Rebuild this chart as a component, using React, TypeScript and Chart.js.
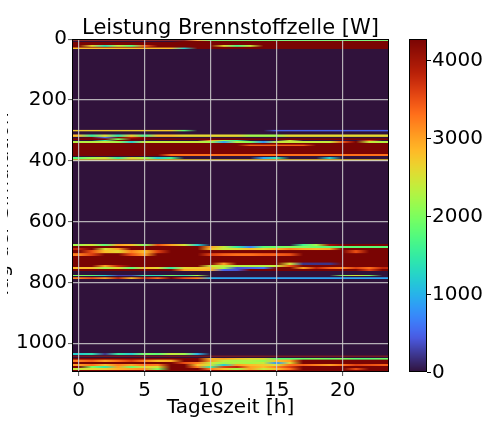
import React, { useEffect, useRef } from "react";
import { Chart, registerables } from "chart.js";

Chart.register(...registerables);

const FONT = "'DejaVu Sans', 'Liberation Sans', sans-serif";

// Columns: hour of day; rows: simulated day
const hours = [0, 1, 2, 3, 4, 5, 6, 7, 8, 9, 10, 11, 12, 13, 14, 15, 16, 17, 18, 19, 20, 21, 22, 23];
const dayCount = 1095;
const xTicks = [0, 5, 10, 15, 20];
const yTicks = [0, 200, 400, 600, 800, 1000];
const cbTicks = [0, 1000, 2000, 3000, 4000];
const cbMax = 4270;

const title = "Leistung Brennstoffzelle [W]";
const xLabel = "Tageszeit [h]";
const yLabel = "Tag der Simulation";

// [first day, last day, power per hour in W]; days not listed are 0 W
type Band = [number, number, number[]];

const winter1: Band[] = [
  [0, 5, [4300, 4300, 4300, 4300, 4300, 4300, 4300, 4300, 4300, 3000, 1900, 1900, 1900, 1900, 1900, 1900, 1900, 1900, 1900, 1900, 1900, 1900, 1900, 1900]],
  [6, 8, [0, 0, 0, 0, 0, 0, 0, 0, 4300, 4300, 4300, 4300, 4300, 4300, 4300, 4300, 4300, 4300, 4300, 4300, 4300, 4300, 4300, 4300]],
  [9, 18, [4300, 4300, 4300, 4300, 4300, 4300, 4300, 4300, 4300, 4300, 4300, 4300, 4300, 4300, 4300, 4300, 4300, 4300, 4300, 4300, 4300, 4300, 4300, 4300]],
  [19, 24, [4300, 2600, 1400, 2400, 1800, 3400, 4300, 4300, 4300, 4300, 4300, 2600, 1700, 2400, 4300, 4300, 4300, 4300, 4300, 4300, 4300, 4300, 4300, 4300]],
  [25, 27, [4300, 4300, 4300, 4300, 4300, 4300, 4300, 4300, 4300, 4300, 4300, 4300, 4300, 4300, 4300, 4300, 4300, 4300, 4300, 4300, 4300, 4300, 4300, 4300]],
  [28, 32, [2800, 2800, 2800, 2800, 2800, 2800, 2800, 2800, 1200, 4300, 4300, 4300, 4300, 4300, 4300, 4300, 4300, 4300, 4300, 4300, 4300, 4300, 4300, 4300]],
];

const winter2: Band[] = [
  [298, 303, [2700, 2700, 2700, 2700, 2700, 2700, 2700, 2700, 1800, 0, 0, 0, 0, 0, 0, 500, 500, 500, 500, 500, 500, 500, 500, 500]],
  [314, 320, [2800, 1500, 2600, 1400, 2700, 1600, 2800, 2800, 2600, 2600, 2600, 2600, 2600, 2200, 2200, 2200, 2600, 2600, 2600, 2600, 2600, 2600, 2600, 2600]],
  [321, 326, [0, 4300, 600, 4300, 3800, 4300, 0, 0, 0, 0, 0, 0, 0, 0, 0, 0, 0, 0, 0, 0, 0, 0, 0, 0]],
  [327, 330, [4300, 4300, 4300, 2000, 4300, 4300, 4300, 4300, 4300, 4300, 4300, 4300, 4300, 4300, 4300, 4300, 4300, 4300, 4300, 4300, 4300, 4300, 4300, 4300]],
  [331, 334, [0, 0, 1500, 4300, 4300, 0, 0, 0, 0, 0, 3000, 2200, 1500, 0, 0, 0, 2400, 0, 0, 0, 0, 0, 3500, 0]],
  [335, 340, [2300, 2300, 2400, 2200, 1200, 2400, 2400, 2400, 2400, 2400, 2200, 900, 2300, 2000, 800, 2400, 2400, 2400, 2400, 2400, 3500, 4300, 2400, 2300]],
  [341, 346, [4300, 4300, 4300, 4300, 4300, 4300, 4300, 4300, 4300, 4300, 4300, 4300, 4300, 4300, 4300, 4300, 4300, 4300, 4300, 4300, 4300, 4300, 4300, 4300]],
  [347, 352, [4300, 4300, 4300, 4300, 4300, 4300, 4300, 4300, 4300, 4300, 4300, 4300, 4300, 3400, 3400, 3400, 3400, 3400, 4300, 4300, 4300, 4300, 4300, 4300]],
  [353, 377, [4300, 4300, 4300, 4300, 4300, 4300, 4300, 4300, 4300, 4300, 4300, 4300, 4300, 4300, 4300, 4300, 4300, 4300, 4300, 4300, 4300, 4300, 4300, 4300]],
  [378, 383, [4300, 4300, 4300, 4300, 4300, 4300, 4300, 3300, 3300, 3300, 3300, 3300, 3300, 3300, 3300, 3300, 3300, 3300, 3300, 3300, 3300, 3300, 3300, 3300]],
  [387, 393, [1800, 2200, 2500, 1500, 2600, 2200, 1200, 1600, 0, 0, 0, 0, 0, 0, 900, 1400, 0, 0, 0, 1200, 0, 0, 0, 0]],
  [396, 401, [2700, 2700, 2700, 2700, 2700, 2700, 2700, 2700, 2700, 2700, 2700, 2700, 2700, 2700, 2700, 2700, 2700, 2700, 2700, 2700, 2700, 2700, 2700, 2700]],
];

const winter3: Band[] = [
  [674, 680, [2200, 2500, 1800, 3000, 2800, 2000, 3500, 3000, 2500, 1200, 0, 0, 0, 0, 0, 0, 0, 1600, 2200, 4000, 4300, 4300, 4300, 4300]],
  [681, 687, [4300, 4300, 4300, 4300, 4300, 4300, 4300, 4300, 4300, 4300, 3000, 2400, 1500, 700, 1800, 1900, 2000, 2000, 1900, 1800, 1800, 1800, 1800, 1800]],
  [688, 694, [3800, 4300, 2500, 3000, 4300, 4300, 4300, 4300, 4300, 4300, 2800, 2400, 2600, 2800, 2600, 2900, 3200, 3000, 2900, 3000, 4300, 4300, 4300, 4300]],
  [695, 704, [4300, 3500, 2800, 2600, 3200, 2800, 3600, 4300, 4300, 4300, 4300, 4300, 4300, 4300, 4300, 4300, 4300, 4300, 4300, 4300, 4300, 3500, 4300, 4300]],
  [705, 712, [3200, 3600, 4300, 4300, 3500, 3000, 4300, 4300, 4300, 4300, 3600, 3400, 3300, 3300, 3400, 3400, 3500, 4300, 4300, 4300, 4300, 4300, 4300, 4300]],
  [713, 734, [4300, 4300, 4300, 4300, 4300, 4300, 4300, 4300, 4300, 4300, 4300, 4300, 4300, 4300, 4300, 4300, 4300, 4300, 4300, 4300, 4300, 4300, 4300, 4300]],
  [735, 742, [4300, 4300, 4300, 4300, 4300, 4300, 4300, 4300, 4300, 4300, 4300, 3000, 4300, 4300, 4300, 4300, 2500, 200, 200, 200, 4300, 4300, 4300, 4300]],
  [743, 748, [4300, 4300, 3000, 3800, 4300, 4300, 4300, 4300, 4300, 4300, 2400, 2400, 2300, 2300, 2300, 2400, 3500, 4300, 4300, 4300, 4300, 4300, 4300, 4300]],
  [749, 756, [2800, 2800, 2200, 2600, 1800, 2800, 2600, 1500, 2600, 2700, 2800, 2200, 400, 500, 600, 4300, 4300, 3000, 3800, 3400, 3200, 3600, 3300, 3800]],
  [757, 763, [4300, 4300, 4300, 4300, 4300, 4300, 4300, 4300, 3000, 2900, 2900, 500, 400, 4300, 4300, 4300, 4300, 4300, 4300, 4300, 4300, 4300, 3600, 4300]],
  [775, 779, [2000, 1800, 1200, 300, 300, 1500, 1300, 2000, 1400, 2200, 0, 0, 0, 0, 0, 0, 0, 0, 0, 0, 2000, 2500, 2000, 0]],
  [784, 789, [3200, 3500, 3000, 3800, 2800, 3800, 3300, 4300, 3500, 3200, 1000, 900, 900, 900, 900, 900, 900, 900, 900, 900, 900, 900, 900, 900]],
];

const winter4: Band[] = [
  [1032, 1038, [1200, 1400, 200, 1500, 1200, 2000, 1800, 2400, 2200, 1000, 0, 0, 0, 0, 0, 0, 0, 0, 0, 0, 0, 0, 0, 0]],
  [1041, 1043, [3800, 3800, 3800, 3800, 3800, 3800, 3800, 3800, 3800, 3800, 3800, 3800, 3800, 3800, 3800, 3800, 3800, 3800, 3800, 3800, 3800, 3800, 3800, 3800]],
  [1048, 1053, [4300, 4300, 4300, 4300, 4300, 4300, 4300, 4300, 4300, 4300, 2800, 3000, 2800, 2600, 2600, 1800, 1800, 1900, 2000, 1900, 2000, 1800, 1800, 1900]],
  [1054, 1060, [3200, 3400, 3000, 3300, 3600, 3200, 2800, 2900, 4300, 4300, 3000, 2400, 2200, 2300, 2100, 2800, 3000, 4300, 4300, 4300, 4300, 4300, 4300, 4300]],
  [1061, 1067, [4300, 4300, 4300, 4300, 4300, 4300, 4300, 4300, 3500, 3200, 2400, 2200, 2300, 2200, 2400, 800, 2600, 4300, 4300, 4300, 4300, 4300, 4300, 4300]],
  [1068, 1074, [3000, 3300, 2800, 3200, 3000, 3300, 3200, 4300, 4300, 2800, 2500, 1200, 3000, 2800, 2700, 2500, 3300, 3400, 3200, 3000, 3300, 3600, 3500, 3400]],
  [1075, 1081, [4300, 2000, 1500, 3000, 1900, 2600, 2500, 4300, 4300, 3200, 1500, 3600, 3800, 3000, 2800, 3200, 3600, 4300, 4300, 4300, 4300, 4300, 4300, 4300]],
  [1082, 1087, [2400, 2600, 2700, 2900, 3000, 3100, 2000, 4300, 4300, 4300, 3200, 2800, 2200, 3000, 2400, 2800, 3300, 4300, 4300, 4300, 4300, 3500, 4300, 4300]],
  [1088, 1094, [4300, 4300, 4300, 4300, 4300, 4300, 4300, 4300, 4300, 4300, 4300, 4300, 4300, 4300, 4300, 4300, 4300, 4300, 4300, 4300, 4300, 4300, 4300, 4300]],
];

// Turbo colormap: polynomial fit in the middle, pinned to the exact end colours
const TURBO_LOW: [number, number, number] = [48, 18, 59];
const TURBO_HIGH: [number, number, number] = [122, 4, 3];

function turboPoly(x: number): [number, number, number] {
  const r = 0.13572138 + x * (4.6153926 + x * (-42.66032258 + x * (132.13108234 + x * (-152.94239396 + x * 59.28637943))));
  const g = 0.09140261 + x * (2.19418839 + x * (4.84296658 + x * (-14.18503333 + x * (4.27729857 + x * 2.82956604))));
  const b = 0.1066733 + x * (12.64194608 + x * (-60.58204836 + x * (110.36276771 + x * (-89.90310912 + x * 27.34824973))));
  const c = (v: number) => 255 * Math.min(1, Math.max(0, v));
  return [c(r), c(g), c(b)];
}

function mix(a: number[], b: number[], f: number): [number, number, number] {
  return [
    Math.round(a[0] + (b[0] - a[0]) * f),
    Math.round(a[1] + (b[1] - a[1]) * f),
    Math.round(a[2] + (b[2] - a[2]) * f),
  ];
}

function turbo(t: number): [number, number, number] {
  const x = Math.min(1, Math.max(0, t));
  if (x < 0.1) return mix(TURBO_LOW, turboPoly(0.1), x / 0.1);
  if (x > 0.9) return mix(turboPoly(0.9), TURBO_HIGH, (x - 0.9) / 0.1);
  const p = turboPoly(x);
  return [Math.round(p[0]), Math.round(p[1]), Math.round(p[2])];
}

function buildImage(): HTMLCanvasElement {
  const cols = hours.length;
  const grid = new Float32Array(dayCount * cols);
  for (const group of [winter1, winter2, winter3, winter4]) {
    for (const [from, to, watts] of group) {
      for (let d = from; d <= to; d++) {
        for (let h = 0; h < cols; h++) grid[d * cols + h] = watts[h];
      }
    }
  }
  const cnv = document.createElement("canvas");
  cnv.width = cols;
  cnv.height = dayCount;
  const c = cnv.getContext("2d")!;
  const img = c.createImageData(cols, dayCount);
  for (let d = 0; d < dayCount; d++) {
    for (let h = 0; h < cols; h++) {
      const [r, g, b] = turbo(grid[d * cols + h] / cbMax);
      const i = (d * cols + h) * 4;
      img.data[i] = r;
      img.data[i + 1] = g;
      img.data[i + 2] = b;
      img.data[i + 3] = 255;
    }
  }
  c.putImageData(img, 0, 0);
  return cnv;
}

export default function App() {
  const canvasRef = useRef<HTMLCanvasElement | null>(null);

  useEffect(() => {
    document.body.style.margin = "0";
    const image = buildImage();

    const heatmap = {
      id: "heatmap",
      beforeDraw(chart: any) {
        const { ctx, chartArea, scales } = chart;
        const x = scales.x;
        const y = scales.y;
        const x0 = x.getPixelForValue(hours[0] - 0.5);
        const x1 = x.getPixelForValue(hours[hours.length - 1] + 0.5);
        const y0 = y.getPixelForValue(-0.5);
        const y1 = y.getPixelForValue(dayCount - 0.5);
        ctx.save();
        ctx.beginPath();
        ctx.rect(chartArea.left, chartArea.top, chartArea.width, chartArea.height);
        ctx.clip();
        ctx.imageSmoothingEnabled = true;
        ctx.imageSmoothingQuality = "high";
        ctx.drawImage(image, x0, y0, x1 - x0, y1 - y0);
        ctx.restore();
      },
    };

    const overlay = {
      id: "overlay",
      afterDraw(chart: any) {
        const { ctx, chartArea } = chart;
        const { left, right, top, bottom } = chartArea;
        ctx.save();
        // axes frame
        ctx.strokeStyle = "#000";
        ctx.lineWidth = 1;
        ctx.strokeRect(left + 0.5, top + 0.5, right - left - 1, bottom - top - 1);

        // title centred over the axes
        ctx.fillStyle = "#000";
        ctx.font = `21px ${FONT}`;
        ctx.textAlign = "center";
        ctx.textBaseline = "alphabetic";
        ctx.fillText(title, (left + right) / 2, top - 5);

        // y axis label, mostly beyond the left edge of the figure
        ctx.save();
        ctx.beginPath();
        ctx.rect(7, top, 20, bottom - top);
        ctx.clip();
        ctx.translate(7.5, (top + bottom) / 2);
        ctx.rotate(-Math.PI / 2);
        ctx.font = `20px ${FONT}`;
        ctx.fillText(yLabel, 0, 0);
        ctx.restore();

        // colour bar
        const cbL = right + 20;
        const cbW = 18;
        const span = bottom - top;
        for (let py = top; py < bottom; py++) {
          const v = ((bottom - (py + 0.5)) / span) * cbMax;
          const [r, g, b] = turbo(v / cbMax);
          ctx.fillStyle = `rgb(${r},${g},${b})`;
          ctx.fillRect(cbL, py, cbW, 1);
        }
        ctx.strokeStyle = "#000";
        ctx.strokeRect(cbL + 0.5, top + 0.5, cbW - 1, span - 1);
        ctx.fillStyle = "#000";
        ctx.font = `20px ${FONT}`;
        ctx.textAlign = "left";
        ctx.textBaseline = "middle";
        for (const v of cbTicks) {
          const py = bottom - (v / cbMax) * span;
          ctx.beginPath();
          ctx.moveTo(cbL + cbW, Math.round(py) + 0.5);
          ctx.lineTo(cbL + cbW + 4, Math.round(py) + 0.5);
          ctx.stroke();
          ctx.fillText(String(v), cbL + cbW + 5, py + 1);
        }
        ctx.restore();
      },
    };

    const gridOpts = {
      color: "rgba(205,205,205,0.85)",
      lineWidth: 1.2,
      drawTicks: true,
      tickLength: 4,
      tickColor: "#555",
      tickWidth: 1,
    };
    const tickFont = { family: FONT, size: 20 };
    const plain = (v: any) => String(v);

    const chart = new Chart(canvasRef.current!, {
      type: "scatter",
      data: { datasets: [{ data: [], pointRadius: 0 }] },
      plugins: [heatmap, overlay],
      options: {
        animation: false,
        responsive: true,
        maintainAspectRatio: false,
        layout: { padding: { left: 0, top: 39, right: 99, bottom: 0 } },
        plugins: { legend: { display: false }, tooltip: { enabled: false } },
        scales: {
          x: {
            type: "linear",
            position: "bottom",
            min: hours[0] - 0.5,
            max: hours[hours.length - 1] + 0.5,
            afterBuildTicks: (s: any) => {
              s.ticks = xTicks.map((v) => ({ value: v }));
            },
            afterFit: (s: any) => {
              s.height = 50;
            },
            grid: gridOpts,
            border: { display: false },
            ticks: { color: "#000", font: tickFont, padding: 3, maxRotation: 0, autoSkip: false, callback: plain },
            title: {
              display: true,
              text: xLabel,
              color: "#000",
              font: tickFont,
              padding: { top: 0, bottom: 2 },
            },
          },
          y: {
            type: "linear",
            reverse: true,
            min: -0.5,
            max: dayCount - 0.5,
            afterBuildTicks: (s: any) => {
              s.ticks = yTicks.map((v) => ({ value: v }));
            },
            afterFit: (s: any) => {
              s.width = 72;
            },
            grid: gridOpts,
            border: { display: false },
            ticks: { color: "#000", font: tickFont, padding: 1, autoSkip: false, callback: plain },
          },
        },
      },
    } as any);

    return () => chart.destroy();
  }, []);

  return (
    <div style={{ position: "fixed", left: 0, top: 0, width: 488, height: 422 }}>
      <canvas ref={canvasRef} />
    </div>
  );
}
